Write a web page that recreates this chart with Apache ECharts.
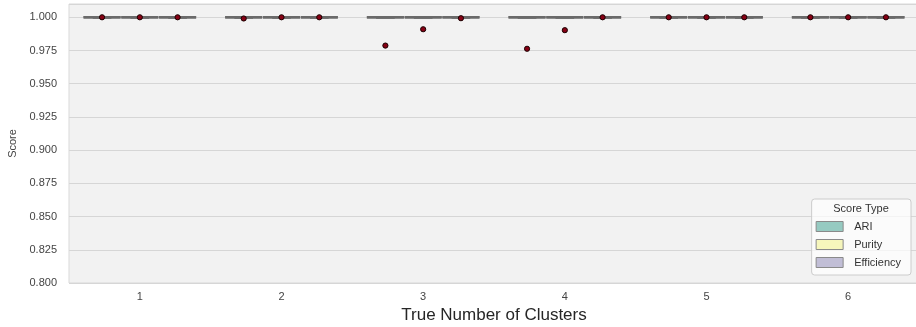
<!DOCTYPE html>
<html>
<head>
<meta charset="utf-8">
<script src="https://cdn.jsdelivr.net/npm/echarts@6/dist/echarts.min.js"></script>
<style>
  html, body { margin: 0; padding: 0; background: #ffffff; }
  #chart { width: 916px; height: 327px; }
</style>
</head>
<body>
<div id="chart"></div>
<script>
// Cluster counts on the x axis and the three score types (hue groups)
const categories = ['1', '2', '3', '4', '5', '6'];
const scoreTypes = ['ARI', 'Purity', 'Efficiency'];

// Five-number summaries [lower whisker, Q1, median, Q3, upper whisker] per cluster count
const ariBoxes = [
  [1, 1, 1, 1, 1], [1, 1, 1, 1, 1], [1, 1, 1, 1, 1],
  [1, 1, 1, 1, 1], [1, 1, 1, 1, 1], [1, 1, 1, 1, 1]
];
const purityBoxes = [
  [1, 1, 1, 1, 1], [1, 1, 1, 1, 1], [1, 1, 1, 1, 1],
  [1, 1, 1, 1, 1], [1, 1, 1, 1, 1], [1, 1, 1, 1, 1]
];
const efficiencyBoxes = [
  [1, 1, 1, 1, 1], [1, 1, 1, 1, 1], [1, 1, 1, 1, 1],
  [1, 1, 1, 1, 1], [1, 1, 1, 1, 1], [1, 1, 1, 1, 1]
];

// Mean score per cluster count
const ariMeans = [1.000, 0.9991, 0.9787, 0.9763, 1.000, 1.000];
const purityMeans = [1.000, 1.000, 0.9910, 0.9903, 1.000, 1.000];
const efficiencyMeans = [1.000, 1.000, 0.9993, 1.000, 1.000, 1.000];

// Y axis ticks
const yTickMin = 0.8;
const yTickStep = 0.025;

const palette = ['#96cac1', '#f6f6bc', '#c1bed6'];
const boxLine = '#6a6a6a';
const DODGE = 0.8;

const boxSets = [ariBoxes, purityBoxes, efficiencyBoxes];
const meanSets = [ariMeans, purityMeans, efficiencyMeans];

function slotGeom(api, hueIdx) {
  const band = api.size([1, 0])[0];
  const slot = band * DODGE / scoreTypes.length;
  const offset = (hueIdx - (scoreTypes.length - 1) / 2) * slot;
  return { slot: slot, offset: offset };
}

function boxRenderer(hueIdx) {
  return function (params, api) {
    const cat = api.value(0);
    const g = slotGeom(api, hueIdx);
    const cx = api.coord([cat, 0])[0] + g.offset;
    const w = g.slot * 0.98;
    const yLo = api.coord([cat, api.value(1)])[1];
    const yQ1 = api.coord([cat, api.value(2)])[1];
    const yMed = api.coord([cat, api.value(3)])[1];
    const yQ3 = api.coord([cat, api.value(4)])[1];
    const yHi = api.coord([cat, api.value(5)])[1];
    const lineStyle = { stroke: boxLine, lineWidth: 2.5 };
    return {
      type: 'group',
      children: [
        { type: 'line', shape: { x1: cx, y1: yLo, x2: cx, y2: yQ1 }, style: lineStyle },
        { type: 'line', shape: { x1: cx, y1: yQ3, x2: cx, y2: yHi }, style: lineStyle },
        { type: 'line', shape: { x1: cx - w / 4, y1: yLo, x2: cx + w / 4, y2: yLo }, style: lineStyle },
        { type: 'line', shape: { x1: cx - w / 4, y1: yHi, x2: cx + w / 4, y2: yHi }, style: lineStyle },
        {
          type: 'rect',
          shape: { x: cx - w / 2, y: yQ3, width: w, height: yQ1 - yQ3 },
          style: { fill: palette[hueIdx], stroke: boxLine, lineWidth: 2.5 }
        },
        { type: 'line', shape: { x1: cx - w / 2, y1: yMed, x2: cx + w / 2, y2: yMed }, style: lineStyle }
      ]
    };
  };
}

function meanRenderer(hueIdx) {
  return function (params, api) {
    const cat = api.value(0);
    const g = slotGeom(api, hueIdx);
    const p = api.coord([cat, api.value(1)]);
    return {
      type: 'circle',
      shape: { cx: p[0] + g.offset, cy: p[1], r: 2.6 },
      style: { fill: '#860014', stroke: '#1a0000', lineWidth: 1 },
      z2: 10
    };
  };
}

const series = [];
scoreTypes.forEach(function (name, h) {
  series.push({
    name: name,
    type: 'custom',
    renderItem: boxRenderer(h),
    itemStyle: { color: palette[h] },
    encode: { x: 0, y: [1, 2, 3, 4, 5] },
    data: boxSets[h].map(function (b, i) { return [i].concat(b); }),
    z: 2
  });
});
scoreTypes.forEach(function (name, h) {
  series.push({
    name: name + ' mean',
    type: 'custom',
    renderItem: meanRenderer(h),
    encode: { x: 0, y: 1 },
    data: meanSets[h].map(function (m, i) { return [i, m]; }),
    z: 5
  });
});

const font = '"Liberation Sans", Arial, Helvetica, sans-serif';

const chart = echarts.init(document.getElementById('chart'), null, { renderer: 'canvas' });
chart.setOption({
  animation: false,
  backgroundColor: '#ffffff',
  textStyle: { fontFamily: font },
  grid: {
    left: 69, top: 4, width: 850, bottom: 44,
    containLabel: false,
    outerBoundsMode: 'none',
    show: true, backgroundColor: '#f2f2f2', borderColor: '#d9d9d9', borderWidth: 1
  },
  xAxis: {
    type: 'category',
    data: categories,
    name: 'True Number of Clusters',
    nameLocation: 'middle',
    nameGap: 24,
    nameTextStyle: { fontSize: 17, color: '#262626', fontFamily: font },
    axisLine: { show: false },
    axisTick: { show: false },
    axisLabel: { fontSize: 11, color: '#444444', margin: 8, fontFamily: font },
    splitLine: { show: false }
  },
  yAxis: {
    type: 'value',
    min: yTickMin,
    max: 1.01,
    interval: yTickStep,
    name: 'Score',
    nameLocation: 'middle',
    nameGap: 40,
    nameTextStyle: { fontSize: 11, color: '#444444', fontFamily: font },
    axisLine: { show: false },
    axisTick: { show: false },
    axisLabel: {
      fontSize: 11, color: '#444444', margin: 12, fontFamily: font,
      showMaxLabel: false,
      formatter: function (v) { return v.toFixed(3); }
    },
    splitLine: { show: true, lineStyle: { color: '#d6d6d6', width: 1 } }
  },
  legend: {
    orient: 'vertical',
    right: 5,
    top: 199,
    padding: [21, 10, 6, 4],
    itemWidth: 27,
    itemHeight: 10,
    itemGap: 5,
    backgroundColor: 'rgba(255,255,255,0.7)',
    borderColor: '#cccccc',
    borderWidth: 1,
    borderRadius: 3,
    textStyle: { fontSize: 11, color: '#333333', lineHeight: 13, fontFamily: font, padding: [0, 0, 0, 6] },
    data: scoreTypes.map(function (n, h) {
      return { name: n, icon: 'rect', itemStyle: { color: palette[h], borderColor: '#8a8a8a', borderWidth: 1 } };
    })
  },
  graphic: [{
    type: 'text',
    x: 861, y: 209,
    z: 100,
    style: {
      text: 'Score Type', fontSize: 11, fill: '#333333', fontFamily: font,
      textAlign: 'center', textVerticalAlign: 'middle'
    }
  }],
  series: series
});
</script>
</body>
</html>
